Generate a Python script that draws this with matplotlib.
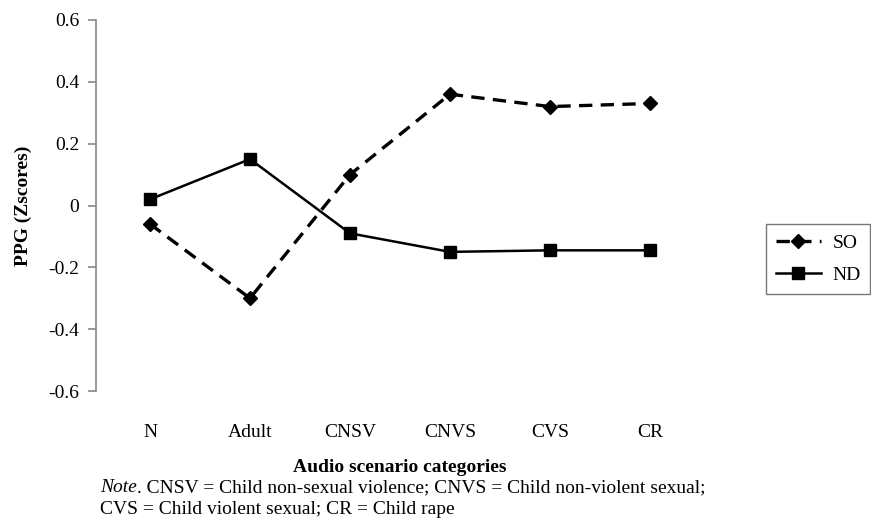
import matplotlib
matplotlib.use("Agg")
import matplotlib.pyplot as plt

plt.rcParams['font.family'] = ['Liberation Serif', 'DejaVu Serif']

# mean PPG z-scores per audio scenario category
categories = ["N", "Adult", "CNSV", "CNVS", "CVS", "CR"]
so_scores = [-0.06, -0.30, 0.10, 0.36, 0.32, 0.33]
nd_scores = [0.02, 0.15, -0.09, -0.15, -0.145, -0.145]
y_ticks = [-0.6, -0.4, -0.2, 0, 0.2, 0.4, 0.6]

FS = 14

fig = plt.figure(figsize=(8.71, 5.29), dpi=100)
ax = fig.add_axes([96 / 871, 1 - 391 / 529, 604 / 871, 371 / 529])

x = list(range(len(categories)))
ax.plot(x, so_scores, color="black", lw=2.4, ls=(0, (4, 2.5)),
        marker="D", ms=7, label="SO")
ax.plot(x, nd_scores, color="black", lw=1.8, ls="-",
        marker="s", ms=8, label="ND")

ax.set_ylim(-0.6, 0.6)
ax.set_xlim(-0.54, 5.5)
ax.set_yticks(y_ticks)
ax.set_yticklabels([f"{v:g}" for v in y_ticks], fontsize=FS)
ax.set_xticks(x)
ax.set_xticklabels(categories, fontsize=FS)

for side in ["top", "right", "bottom"]:
    ax.spines[side].set_visible(False)
ax.spines["left"].set_color("#888888")
ax.spines["left"].set_linewidth(1.2)
ax.tick_params(axis="y", length=6, width=1.2, color="#888888", pad=6)
ax.tick_params(axis="x", length=0, pad=24)

ax.set_ylabel("PPG (Zscores)", fontsize=FS, fontweight="bold", labelpad=12)

leg = ax.legend(loc="center left", bbox_to_anchor=(1.1, 0.356), fontsize=FS,
                frameon=True, fancybox=False, edgecolor="#555555",
                handlelength=2.3, handletextpad=0.6, borderpad=0.5,
                borderaxespad=0.3, labelspacing=0.75)
leg.get_frame().set_linewidth(1.0)

fig.text(400 / 871, 1 - 467 / 529, "Audio scenario categories", fontsize=FS,
         fontweight="bold", ha="center", va="center")

# note under the chart: italic "Note" followed by plain text
note = fig.text(100 / 871, 1 - 488 / 529, "Note", fontsize=FS,
                fontstyle="italic", ha="left", va="center")
fig.canvas.draw()
bb = note.get_window_extent()
fig.text(bb.x1 / fig.bbox.width, 1 - 488 / 529,
         ". CNSV = Child non-sexual violence; CNVS = Child non-violent sexual;",
         fontsize=FS, ha="left", va="center")
fig.text(100 / 871, 1 - 509 / 529,
         "CVS = Child violent sexual; CR = Child rape",
         fontsize=FS, ha="left", va="center")

fig.savefig("out.png", dpi=100)
